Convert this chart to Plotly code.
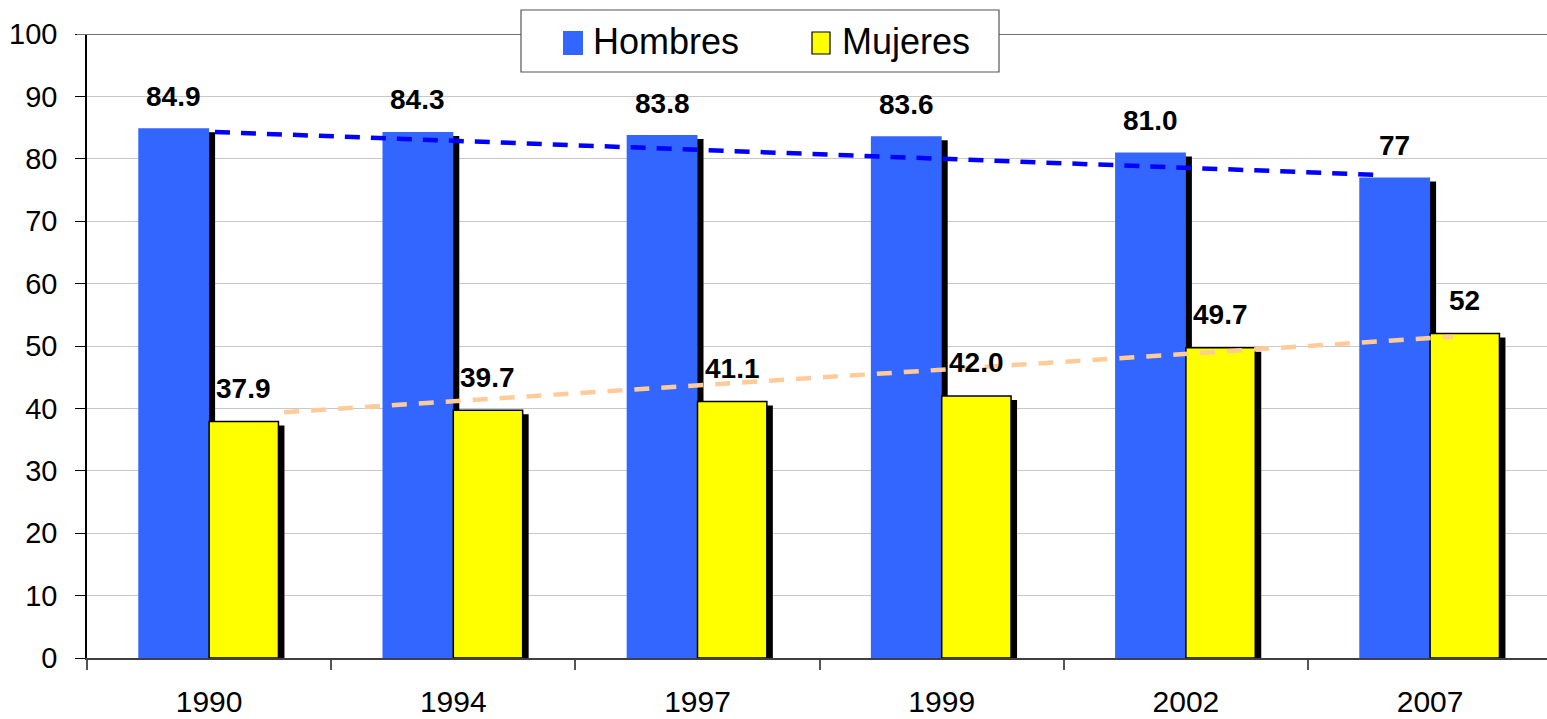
import plotly.graph_objects as go

years = ["1990", "1994", "1997", "1999", "2002", "2007"]
hombres = [84.9, 84.3, 83.8, 83.6, 81.0, 77.0]
mujeres = [37.9, 39.7, 41.1, 42.0, 49.7, 52.0]
hombres_labels = ["84.9", "84.3", "83.8", "83.6", "81.0", "77"]
mujeres_labels = ["37.9", "39.7", "41.1", "42.0", "49.7", "52"]
# dashed trend lines (position along category axis, value)
hombres_trend_x = [0.024, 4.803]
hombres_trend_y = [84.3, 77.4]
mujeres_trend_x = [0.307, 5.094]
mujeres_trend_y = [39.4, 51.5]
y_ticks = list(range(0, 101, 10))

W, H = 1547, 719
L, T = 87, 34
B = H - 658
plot_w = W - L
plot_h = H - T - B
cat_px = 244.2
x_range = [-0.5, -0.5 + plot_w / cat_px]
px_y = 100.0 / plot_h
px_x = 1.0 / cat_px

hw, mw = 0.29, 0.284
sh_dx = 6 * px_x
sh_dy = 4 * px_y

FONT = "Liberation Sans, Arial, sans-serif"

fig = go.Figure()
# shadows + bars
fig.add_trace(go.Bar(x=years, y=[v - sh_dy for v in hombres], width=hw, offset=-hw + sh_dx,
                     marker=dict(color="black", line=dict(width=0)), hoverinfo="skip"))
fig.add_trace(go.Bar(x=years, y=hombres, width=hw, offset=-hw, name="Hombres",
                     marker=dict(color="#3366FF", line=dict(width=0))))
fig.add_trace(go.Bar(x=years, y=[v - sh_dy for v in mujeres], width=mw, offset=sh_dx,
                     marker=dict(color="black", line=dict(width=0)), hoverinfo="skip"))
fig.add_trace(go.Bar(x=years, y=mujeres, width=mw, offset=0, name="Mujeres",
                     marker=dict(color="#FFFF00", line=dict(color="black", width=1.5))))

fig.add_trace(go.Scatter(x=hombres_trend_x, y=hombres_trend_y, mode="lines", xaxis="x2",
                         line=dict(color="#0000FF", width=4.5, dash="15px,11px")))
fig.add_trace(go.Scatter(x=mujeres_trend_x, y=mujeres_trend_y, mode="lines", xaxis="x2",
                         line=dict(color="#FFCC99", width=4.5, dash="15px,12px")))

annotations = []
for i in range(len(years)):
    annotations.append(dict(x=i - hw / 2, y=hombres[i], xref="x2", yref="y", text=hombres_labels[i],
                            showarrow=False, yanchor="middle", yshift=32,
                            font=dict(family=FONT, size=28, color="black", weight="bold")))
    annotations.append(dict(x=i + mw / 2, y=mujeres[i], xref="x2", yref="y", text=mujeres_labels[i],
                            showarrow=False, yanchor="middle", yshift=33,
                            font=dict(family=FONT, size=28, color="black", weight="bold")))

def px2paper_x(p):
    return (p - L) / plot_w

def px2paper_y(p):
    return (H - B - p) / plot_h

shapes = [
    dict(type="line", xref="paper", yref="y", x0=px2paper_x(77), x1=1.0, y0=100, y1=100,
         line=dict(color="#707070", width=2)),
    dict(type="rect", xref="paper", yref="paper", x0=px2paper_x(521), x1=px2paper_x(999),
         y0=px2paper_y(72), y1=px2paper_y(10), fillcolor="white", line=dict(color="#555555", width=1.2)),
    dict(type="rect", xref="paper", yref="paper", x0=px2paper_x(563), x1=px2paper_x(583),
         y0=px2paper_y(55), y1=px2paper_y(31), fillcolor="#3366FF", line=dict(width=0)),
    dict(type="rect", xref="paper", yref="paper", x0=px2paper_x(812), x1=px2paper_x(830),
         y0=px2paper_y(54), y1=px2paper_y(32), fillcolor="#FFFF00", line=dict(color="black", width=1.2)),
]
annotations.append(dict(x=px2paper_x(591), y=px2paper_y(42), xref="paper", yref="paper", text="Hombres",
                        showarrow=False, xanchor="left", yanchor="middle",
                        font=dict(family=FONT, size=36, color="black")))
annotations.append(dict(x=px2paper_x(840), y=px2paper_y(42), xref="paper", yref="paper", text="Mujeres",
                        showarrow=False, xanchor="left", yanchor="middle",
                        font=dict(family=FONT, size=36, color="black")))

fig.update_layout(
    width=W, height=H,
    margin=dict(l=L, r=0, t=T, b=B, pad=0),
    paper_bgcolor="white", plot_bgcolor="white",
    barmode="overlay", showlegend=False,
    font=dict(family=FONT, color="black"),
    xaxis=dict(type="category", range=x_range, tickson="boundaries", ticks="outside",
               ticklen=10, tickwidth=1.5, tickcolor="#555555", showline=True,
               linecolor="#404040", linewidth=1.5, showgrid=False, zeroline=False,
               tickfont=dict(size=30, family=FONT, color="black"), ticklabelstandoff=16),
    xaxis2=dict(type="linear", range=x_range, overlaying="x", visible=False),
    yaxis=dict(range=[0, 100], tickvals=y_ticks, ticks="outside", ticklen=10, tickwidth=1.2,
               tickcolor="black", showline=True, linecolor="black", linewidth=1.5,
               showgrid=True, gridcolor="#C8C8C8", gridwidth=1, zeroline=False,
               tickfont=dict(size=29, family=FONT, color="black"), ticklabelstandoff=12),
    shapes=shapes, annotations=annotations,
)

fig.write_html("out.html", config={"displayModeBar": False},
               post_script="document.body.style.margin='0';document.body.style.overflow='hidden';")
